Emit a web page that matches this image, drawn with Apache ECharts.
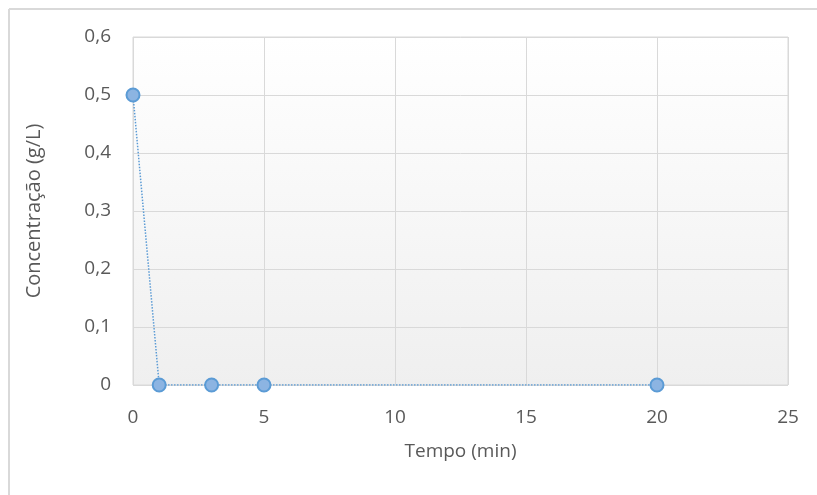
<!DOCTYPE html>
<html><head><meta charset="utf-8">
<script src="https://cdn.jsdelivr.net/npm/echarts@6/dist/echarts.min.js"></script>
<style>html,body{margin:0;padding:0;background:#fff}#c{width:817px;height:495px}</style>
</head><body><div id="c"></div>
<script>
const tempo = [0, 1, 3, 5, 20];
const concentracao = [0.5, 0, 0, 0, 0];
const xTitle = 'Tempo (min)';
const yTitle = 'Concentração (g/L)';

const chart = echarts.init(document.getElementById('c'));
const font = '"Open Sans", "Noto Sans", sans-serif';
chart.setOption({
  animation: false,
  textStyle: { fontFamily: font },
  graphic: [
    { type: 'line', shape: { x1: 9, y1: 9, x2: 817, y2: 9 }, style: { stroke: '#d9d9d9', lineWidth: 2 } },
    { type: 'line', shape: { x1: 9, y1: 9, x2: 9, y2: 495 }, style: { stroke: '#d9d9d9', lineWidth: 2 } }
  ],
  grid: {
    left: 133, right: 29, top: 37, bottom: 110, show: true,
    borderColor: '#d9d9d9', borderWidth: 1,
    backgroundColor: new echarts.graphic.LinearGradient(0, 0, 0, 1, [
      { offset: 0, color: '#ffffff' }, { offset: 1, color: '#efefef' }
    ])
  },
  xAxis: {
    type: 'value', min: 0, max: 25, interval: 5,
    name: xTitle, nameLocation: 'middle', nameGap: 57,
    nameTextStyle: { color: '#595959', fontSize: 19, fontFamily: font },
    axisLine: { show: false }, axisTick: { show: false },
    axisLabel: { color: '#595959', fontSize: 19, margin: 23, fontFamily: font },
    splitLine: { lineStyle: { color: '#d9d9d9' } }
  },
  yAxis: {
    type: 'value', min: 0, max: 0.6, interval: 0.1,
    name: yTitle, nameLocation: 'middle', nameGap: 89,
    nameTextStyle: { color: '#595959', fontSize: 20, fontFamily: font },
    axisLine: { show: false }, axisTick: { show: false },
    axisLabel: { color: '#595959', fontSize: 19, margin: 22, fontFamily: font,
      formatter: v => v === 0 ? '0' : v.toFixed(1).replace('.', ',') },
    splitLine: { lineStyle: { color: '#d9d9d9' } }
  },
  series: [{
    type: 'line',
    data: tempo.map((t, i) => [t, concentracao[i]]),
    symbol: 'circle', symbolSize: 13,
    lineStyle: { color: '#5b9bd5', width: 1.5, type: 'dotted' },
    itemStyle: { color: '#8cb4e2', borderColor: '#5b9bd5', borderWidth: 2 }
  }]
});
</script></body></html>
